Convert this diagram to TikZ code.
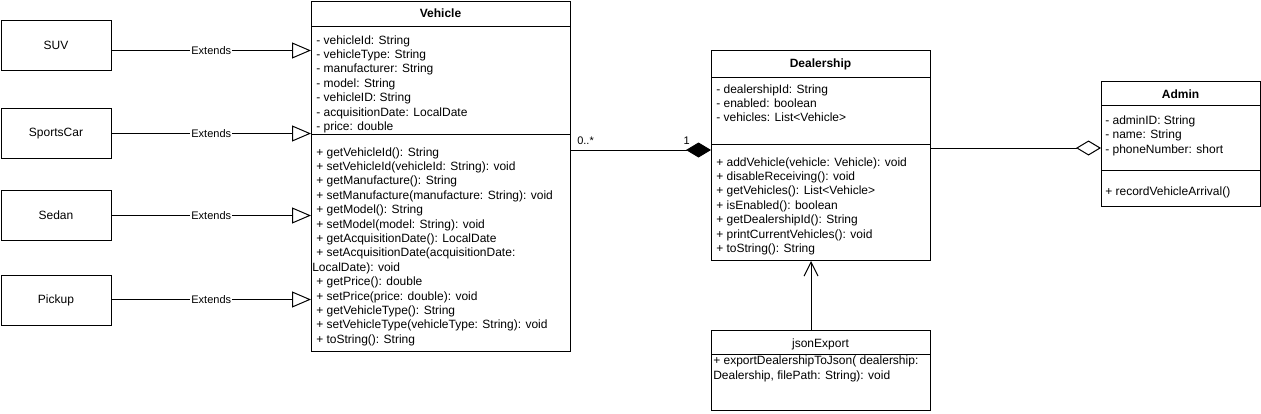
\documentclass[tikz,border=0pt]{standalone}
\usepackage{fontspec}
\setmainfont{Liberation Sans}
\usetikzlibrary{arrows.meta}
\begin{document}
\begin{tikzpicture}[x=0.75pt,y=-0.75pt,
  box/.style={draw, line width=0.75pt, anchor=north west, inner sep=0, fill=white, font=\fontsize{9}{10.8}\selectfont},
  txt/.style={font=\fontsize{9}{10.8}\selectfont, inner sep=0, anchor=base west},
  hd/.style={font=\fontsize{9}{10.8}\selectfont\bfseries, inner sep=0, anchor=base},
  hdn/.style={font=\fontsize{9}{10.8}\selectfont, inner sep=0, anchor=base},
  lbl/.style={font=\fontsize{8.25}{10}\selectfont, inner sep=0.75pt, fill=white},
  mult/.style={font=\fontsize{8.25}{10}\selectfont, inner sep=0},
  sep/.style={line width=0.75pt},
  ext/.style={line width=0.75pt, -{Triangle[open, length=14.25pt, width=12pt, fill=white]}},
  comp/.style={line width=0.75pt, -{Diamond[length=18.75pt, width=11.25pt]}},
  aggr/.style={line width=0.75pt, -{Diamond[open, length=18.75pt, width=11.25pt, fill=white]}},
  nav/.style={line width=0.75pt, -{Straight Barb[length=10.5pt, width=10.5pt]}}
]
\useasboundingbox (0,0) rectangle (1261,414);

% subclasses
\node[box, minimum width=82.5pt, minimum height=37.5pt] (suv) at (0.5,20) {SUV};
\node[box, minimum width=82.5pt, minimum height=37.5pt] (sports) at (0.5,108) {SportsCar};
\node[box, minimum width=82.5pt, minimum height=37.5pt] (sedan) at (0.5,190) {Sedan};
\node[box, minimum width=82.5pt, minimum height=37.5pt] (pickup) at (0.5,275) {Pickup};

% Vehicle
\node[box, minimum width=194.25pt, minimum height=262.875pt] (veh) at (311,0.5) {};
\node[hd] (vehh) at (440.5,17) {Vehicle};
\draw[sep] (veh.west |- 0,26) -- (veh.east |- 0,26);
\draw[sep] (veh.west |- 0,134) -- (veh.east |- 0,134);
\foreach \s [count=\i from 0] in {- vehicleId: String, - vehicleType: String, - manufacturer: String, - model: String, - vehicleID: String, - acquisitionDate: LocalDate, - price: double}
  \node[txt] (va\i) at (316,44+14.4*\i) {\s};
\foreach \s [count=\i from 0] in {+ getVehicleId(): String, + setVehicleId(vehicleId: String): void, + getManufacture(): String, + setManufacture(manufacture: String): void, + getModel(): String, + setModel(model: String): void, + getAcquisitionDate(): LocalDate, + setAcquisitionDate(acquisitionDate:, \hspace*{-3pt}LocalDate): void, + getPrice(): double, + setPrice(price: double): void, + getVehicleType(): String, + setVehicleType(vehicleType: String): void, + toString(): String}
  \node[txt] (vm\i) at (316,156+14.4*\i) {\s};

% Dealership
\node[box, minimum width=164.25pt, minimum height=157.5pt] (deal) at (711,50) {};
\node[hd] (dealh) at (820.5,67) {Dealership};
\draw[sep] (deal.west |- 0,77) -- (deal.east |- 0,77);
\draw[sep] (deal.west |- 0,144) -- (deal.east |- 0,144);
\foreach \s [count=\i from 0] in {- dealershipId: String, - enabled: boolean, - vehicles: List<Vehicle>}
  \node[txt] (da\i) at (716,93+14.4*\i) {\s};
\foreach \s [count=\i from 0] in {+ addVehicle(vehicle: Vehicle): void, + disableReceiving(): void, + getVehicles(): List<Vehicle>, + isEnabled(): boolean, + getDealershipId(): String, + printCurrentVehicles(): void, + toString(): String}
  \node[txt] (dm\i) at (716,166+14.4*\i) {\s};

% Admin
\node[box, minimum width=119.25pt, minimum height=93.75pt] (admin) at (1101,81) {};
\node[hd] (adminh) at (1180.5,98) {Admin};
\draw[sep] (admin.west |- 0,105) -- (admin.east |- 0,105);
\draw[sep] (admin.west |- 0,170) -- (admin.east |- 0,170);
\foreach \s [count=\i from 0] in {- adminID: String, - name: String, - phoneNumber: short}
  \node[txt] (aa\i) at (1105,124.5+14.4*\i) {\s};
\node[txt] (am0) at (1105,195.5) {+ recordVehicleArrival()};

% jsonExport
\node[box, minimum width=164.25pt, minimum height=60pt] (json) at (711,330) {};
\node[hdn] (jsonh) at (820.5,347) {jsonExport};
\draw[sep] (json.west |- 0,354) -- (json.east |- 0,354);
\node[txt] (jm0) at (713,364) {+ exportDealershipToJson( dealership:};
\node[txt] (jm1) at (713,379) {Dealership, filePath: String): void};

% generalisations
\draw[ext] ([yshift=-3.75pt]suv.east) -- node[lbl] (l1) {Extends} ([yshift=-3.75pt]suv.east -| veh.west);
\draw[ext] (sports.east) -- node[lbl] (l2) {Extends} (sports.east -| veh.west);
\draw[ext] (sedan.east) -- node[lbl] (l3) {Extends} (sedan.east -| veh.west);
\draw[ext] ([yshift=0.75pt]pickup.east) -- node[lbl] (l4) {Extends} ([yshift=0.75pt]pickup.east -| veh.west);

% composition
\draw[comp] (veh.east |- 0,150) -- (deal.west |- 0,150);
\node[mult, anchor=base west] (m1) at (577,144) {0..*};
\node[mult, anchor=base east] (m2) at (690,144) {1};

% aggregation
\draw[aggr] (deal.east |- 0,148) -- (admin.west |- 0,148);

% navigation
\draw[nav] ([xshift=-7.5pt]json.north) -- ([xshift=-7.5pt]deal.south);
\end{tikzpicture}
\end{document}
